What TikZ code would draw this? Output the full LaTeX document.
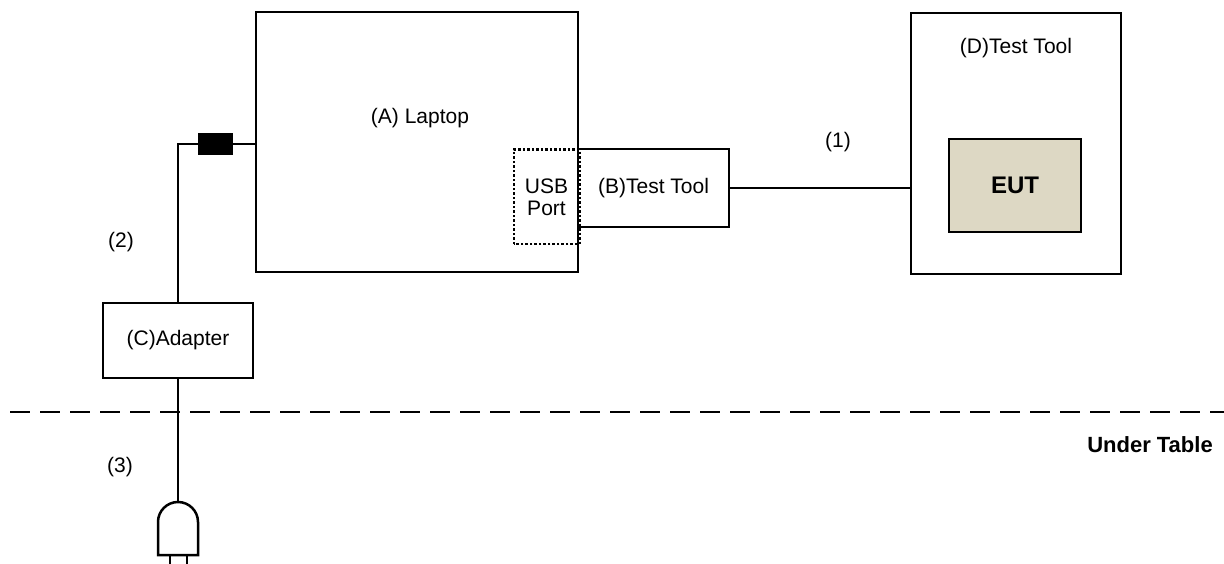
\documentclass[tikz,border=0pt]{standalone}
\usepackage{fontspec}
\setmainfont{Liberation Sans}
\begin{document}
\begin{tikzpicture}[x=1pt,y=-1pt,
  box/.style={draw=black,line width=2.5pt,fill=white,inner sep=0pt,font=\fontsize{21}{24}\selectfont,align=center},
  lbl/.style={font=\fontsize{21}{24}\selectfont,inner sep=0pt},
  wire/.style={line width=2.5pt}]
\useasboundingbox (0,0) rectangle (1224,564);
\begin{scope}
\clip (0,0) rectangle (1224,564);
% boxes
\node[box,minimum width=322pt,minimum height=260pt] (laptop) at (417,142) {};
\node[lbl] (laptoptxt) at (420,118) {(A) Laptop};
\node[box,minimum width=151pt,minimum height=78pt] (B) at (653.5,188) {(B)Test Tool};
\node[box,draw=none,fill=none,minimum width=63pt,minimum height=92pt] (usb) at (546.5,197) {USB\\[-2pt]Port};
\draw[line width=2.5pt,dotted] (usb.south west) rectangle (usb.north east);
\node[box,minimum width=210pt,minimum height=261pt] (D) at (1016,143.5) {};
\node[lbl] (Dtxt) at (1016,48) {(D)Test Tool};
\node[box,fill={rgb,255:red,221;green,216;blue,196},minimum width=132pt,minimum height=93pt,font=\fontsize{24}{27}\selectfont\bfseries] (eut) at (1015,185.5) {EUT};
\node[box,minimum width=150pt,minimum height=75pt] (adapter) at (178,340.5) {(C)Adapter};
\node[draw=black,fill=black,minimum width=34pt,minimum height=21pt,inner sep=0pt] (blk) at (215,144) {};
% connectors
\draw[wire] (adapter.north) |- (blk.west);
\draw[wire] (blk.east) -- (blk.east -| laptop.west);
\draw[wire] (B.east) -- (B.east -| D.west);
\coordinate (plugtop) at (178,502);
\draw[wire] (adapter.south) -- (plugtop);
% plug
\draw[wire] (158,555) -- (158,522) arc (180:360:20) -- (198,555) -- cycle;
\draw[wire] (170,555) -- (170,566);
\draw[wire] (187,555) -- (187,566);
% table line
\draw[line width=2.5pt,dash pattern=on 20pt off 10pt] (10,412) -- (1224,412);
% labels
\node[lbl] (l1) at (838,142) {(1)};
\node[lbl] (l2) at (121,242) {(2)};
\node[lbl] (l3) at (120,467) {(3)};
\node[lbl,font=\fontsize{22}{25}\selectfont\bfseries] (ut) at (1150,445) {Under Table};
\end{scope}
\end{tikzpicture}
\end{document}
